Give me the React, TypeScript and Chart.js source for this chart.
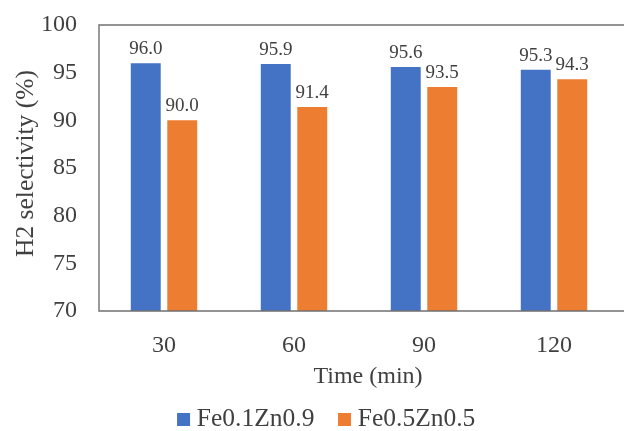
import { useEffect, useRef } from "react";
import { Chart, registerables } from "chart.js";

Chart.register(...registerables);

const categories = ["30", "60", "90", "120"];
const series1Name = "Fe0.1Zn0.9";
const series1Values = [96.0, 95.9, 95.6, 95.3];
const series2Name = "Fe0.5Zn0.5";
const series2Values = [90.0, 91.4, 93.5, 94.3];
const yMin = 70;
const yMax = 100;
const yStep = 5;

const FONT = "'Liberation Serif', 'Times New Roman', serif";
const TEXT = "#404040";
const FRAME = "#707070";
const BLUE = "#4472C4";
const ORANGE = "#ED7D31";

const framePlugin = {
  id: "frame",
  afterDatasetsDraw(chart: any) {
    const { ctx, chartArea } = chart;
    const w = chart.width;
    ctx.save();
    ctx.strokeStyle = FRAME;
    ctx.lineWidth = 1.4;
    ctx.beginPath();
    ctx.moveTo(w, chartArea.top);
    ctx.lineTo(chartArea.left, chartArea.top);
    ctx.lineTo(chartArea.left, chartArea.bottom);
    ctx.lineTo(w, chartArea.bottom);
    ctx.stroke();
    ctx.restore();
  },
};

const valueLabelPlugin = {
  id: "valueLabels",
  afterDatasetsDraw(chart: any) {
    const ctx = chart.ctx;
    ctx.save();
    ctx.font = `19px ${FONT}`;
    ctx.fillStyle = TEXT;
    ctx.textAlign = "center";
    ctx.textBaseline = "alphabetic";
    chart.data.datasets.forEach((ds: any, i: number) => {
      chart.getDatasetMeta(i).data.forEach((bar: any, j: number) => {
        ctx.fillText(Number(ds.data[j]).toFixed(1), bar.x, bar.y - 9);
      });
    });
    ctx.restore();
  },
};

// Fine placement of legend and axis titles (after scales are configured)
const placementPlugin = {
  id: "placement",
  afterLayout(chart: any) {
    const lg = chart.legend;
    if (lg) {
      lg.left += 19.7;
      lg.right += 19.7;
      lg.top += 11.25;
      lg.bottom += 11.25;
    }
    const xs = chart.scales.x;
    if (xs) xs.right += 18;
    const ys = chart.scales.y;
    if (ys) ys.top -= 9;
  },
};

export default function App() {
  const ref = useRef<HTMLCanvasElement | null>(null);

  useEffect(() => {
    document.body.style.margin = "0";
    if (!ref.current) return;
    const chart = new Chart(ref.current, {
      type: "bar",
      data: {
        labels: categories,
        datasets: [
          {
            label: series1Name,
            data: series1Values,
            backgroundColor: BLUE,
            borderWidth: 0,
            categoryPercentage: 0.5615,
            barPercentage: 0.82,
          },
          {
            label: series2Name,
            data: series2Values,
            backgroundColor: ORANGE,
            borderWidth: 0,
            categoryPercentage: 0.5615,
            barPercentage: 0.82,
          },
        ],
      },
      options: {
        responsive: false,
        animation: false,
        devicePixelRatio: 1,
        layout: { padding: { top: 25, right: 5, left: 0, bottom: 0 } },
        plugins: {
          tooltip: { enabled: false },
          legend: {
            position: "bottom",
            labels: {
              usePointStyle: true,
              pointStyle: "rect",
              boxWidth: 1,
              boxHeight: 13,
              padding: 29.65,
              color: TEXT,
              font: { family: FONT, size: 25.5 },
            },
          },
        },
        scales: {
          x: {
            grid: { display: false, drawTicks: false },
            border: { display: false },
            ticks: {
              color: TEXT,
              font: { family: FONT, size: 24 },
              padding: 20,
            },
            title: {
              display: true,
              text: "Time (min)",
              color: TEXT,
              font: { family: FONT, size: 24 },
              padding: { top: 0, bottom: -25.5 },
            },
            afterFit(scale: any) {
              scale.height = 54.85;
              scale.paddingLeft = 0;
              scale.paddingRight = 0;
            },
          },
          y: {
            min: yMin,
            max: yMax,
            grid: { display: false, drawTicks: false },
            border: { display: false },
            ticks: {
              stepSize: yStep,
              color: TEXT,
              font: { family: FONT, size: 24 },
              padding: 22,
            },
            title: {
              display: true,
              text: "H2 selectivity (%)",
              color: TEXT,
              font: { family: FONT, size: 25.5 },
              padding: { top: 11, bottom: 0 },
            },
            afterFit(scale: any) {
              scale.width = 99;
              scale.paddingTop = 0;
              scale.paddingBottom = 0;
            },
          },
        },
      },
      plugins: [framePlugin, valueLabelPlugin, placementPlugin],
    });
    return () => chart.destroy();
  }, []);

  return <canvas ref={ref} width={624} height={431} style={{ display: "block", width: 624, height: 431 }} />;
}
